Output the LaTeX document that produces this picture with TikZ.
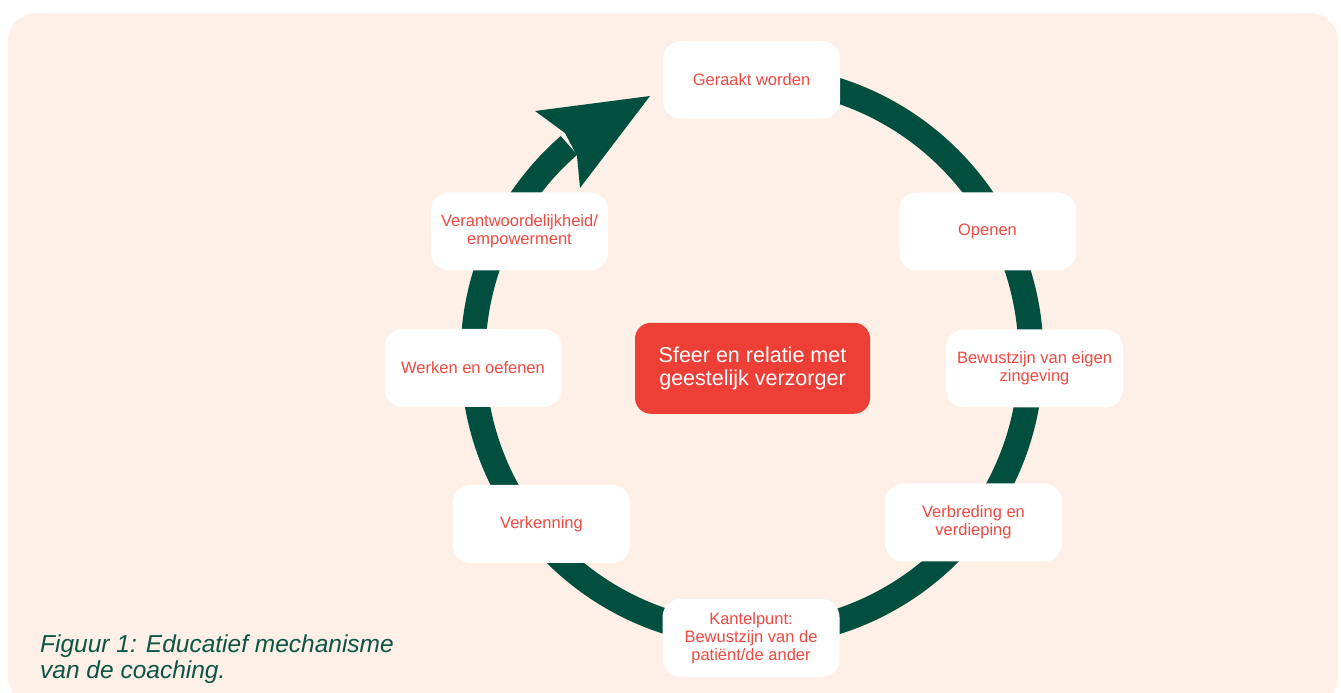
\documentclass[tikz,border=0pt]{standalone}
\usepackage{fontspec}
\setmainfont{Liberation Sans}
\definecolor{peach}{HTML}{FEF0E6}
\definecolor{ringgreen}{HTML}{004F3F}
\definecolor{captiongreen}{HTML}{0B5545}
\definecolor{hubred}{HTML}{EE3F36}
\definecolor{labelred}{HTML}{EF4A41}
\begin{document}
\begin{tikzpicture}[x=1pt,y=1pt,
  stage/.style={fill=white, rounded corners=18pt, minimum width=177pt, minimum height=78pt,
    inner sep=0pt, align=center, text=labelred, font=\fontsize{16.5}{18}\selectfont},
  hub/.style={fill=hubred, rounded corners=16pt, minimum width=235pt, minimum height=91pt,
    inner sep=0pt, align=center, text=white, font=\fontsize{21.5}{23.5}\selectfont},
  caption/.style={anchor=base west, inner sep=0pt, text=captiongreen,
    font=\fontsize{24.5}{26}\selectfont\itshape}]
\useasboundingbox (0,0) rectangle (1341,693);
\clip (0,0) rectangle (1341,693);
% panel
\fill[peach, rounded corners=28pt] (8,-12) rectangle (1338,680);
% cycle ring with arrowhead
\coordinate (ringc) at (752,337);
\draw[ringgreen, line width=25pt] (ringc) ++(90:279) arc[start angle=90, end angle=-229, radius=279];
\fill[ringgreen] (650,597) -- (535,582) -- (565,560) -- (577,537) -- (580,505) -- cycle;
% stages
\node[stage] (geraakt) at (751.5,613) {Geraakt worden};
\node[stage] (openen) at (987.5,461.5) {Openen};
\node[stage] (zingeving) at (1034.5,324.5) {Bewustzijn van eigen\\zingeving};
\node[stage] (verbreding) at (973.5,170.5) {Verbreding en\\verdieping};
\node[stage] (kantelpunt) at (751,55) {Kantelpunt:\\Bewustzijn van de\\patiënt/de ander};
\node[stage] (verkenning) at (541.5,169) {Verkenning};
\node[stage] (werken) at (473,325) {Werken en oefenen};
\node[stage] (verantw) at (519.5,461.5) {Verantwoordelijkheid/\\empowerment};
% centre
\node[hub] (sfeer) at (752.5,324.7) {Sfeer en relatie met\\geestelijk verzorger};
% caption
\node[caption] (cap1) at (40,40) {Figuur 1: Educatief mechanisme};
\node[caption] (cap2) at (40,14) {van de coaching.};
\end{tikzpicture}
\end{document}
